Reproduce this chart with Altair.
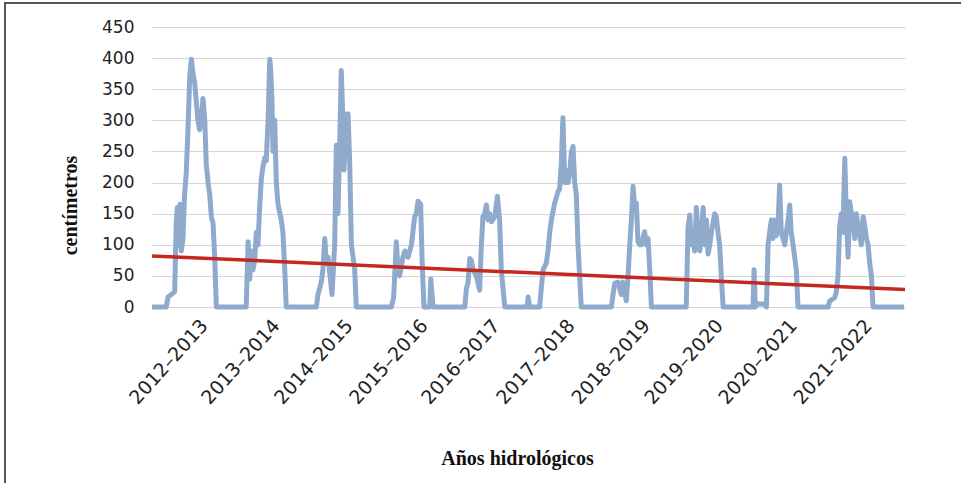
import altair as alt
import pandas as pd

START = "2012-10-01"

# Snow depth (cm): days since 2012-10-01 and depth per season
s1_days = [0, 69, 78, 94, 110, 118, 123, 129, 136, 142, 150, 158, 166, 175, 183, 191, 199, 207, 215, 223, 231, 239, 247, 256, 263, 272, 280, 288, 296, 304, 312]
s1_cm   = [0, 0, 16, 20, 25, 140, 160, 100, 165, 90, 110, 180, 215, 290, 370, 398, 375, 360, 330, 300, 285, 300, 335, 300, 230, 200, 180, 145, 135, 80, 0]

s2_days = [457, 466, 474, 482, 490, 498, 506, 514, 522, 530, 538, 547, 554, 563, 571, 576, 582, 587, 595, 603, 611, 627, 635, 644, 651]
s2_cm   = [0, 105, 45, 90, 60, 75, 120, 100, 160, 205, 225, 240, 235, 300, 398, 380, 330, 250, 300, 200, 165, 140, 120, 60, 0]

s3_days = [797, 805, 813, 821, 829, 838, 845, 854, 862, 873, 886, 894, 902, 910, 918, 926, 931, 942, 951, 959, 967, 975, 983, 991]
s3_cm   = [0, 20, 30, 40, 60, 110, 70, 80, 55, 20, 100, 260, 150, 260, 380, 300, 220, 310, 310, 230, 100, 80, 60, 0]

s4_days = [1161, 1172, 1185, 1193, 1201, 1209, 1217, 1226, 1242, 1258, 1274, 1282, 1290, 1303, 1310, 1319, 1347, 1352, 1363]
s4_cm   = [0, 15, 105, 60, 50, 65, 80, 90, 80, 100, 145, 150, 170, 165, 75, 0, 0, 45, 0]

s5_days = [1517, 1525, 1533, 1541, 1549, 1557, 1573, 1589, 1597, 1605, 1614, 1622, 1630, 1638, 1646, 1662, 1675, 1686, 1694, 1711, 1819, 1824, 1832]
s5_cm   = [0, 30, 40, 78, 75, 60, 50, 27, 97, 145, 150, 164, 140, 150, 137, 145, 178, 140, 60, 0, 0, 16, 0]

s6_days = [1880, 1888, 1897, 1912, 1921, 1929, 1937, 1953, 1969, 1977, 1985, 1993, 2002, 2009, 2018, 2026, 2034, 2042, 2050, 2058, 2066, 2074, 2082]
s6_cm   = [0, 30, 60, 70, 91, 120, 140, 167, 185, 190, 230, 304, 200, 220, 200, 215, 250, 258, 200, 180, 100, 50, 0]

s7_days = [2228, 2236, 2244, 2260, 2276, 2284, 2300, 2309, 2317, 2325, 2333, 2341, 2349, 2357, 2365, 2373, 2389, 2397, 2406, 2414, 2422]
s7_cm   = [0, 20, 38, 40, 20, 40, 10, 50, 100, 140, 194, 160, 167, 105, 100, 100, 121, 100, 110, 60, 0]

s8_days = [2591, 2600, 2608, 2616, 2624, 2632, 2640, 2648, 2657, 2664, 2673, 2681, 2689, 2697, 2705, 2713, 2729, 2737, 2745, 2753, 2761, 2770]
s8_cm   = [0, 129, 148, 100, 110, 90, 160, 110, 90, 120, 160, 100, 140, 85, 100, 120, 150, 145, 120, 100, 50, 0]

s9_days = [2907, 2915, 2920, 2926, 2931, 2972, 2980, 2988, 2996, 3004, 3012, 3020, 3028, 3036, 3044, 3052, 3060, 3069, 3076, 3085, 3093, 3100, 3109, 3117, 3125, 3133]
s9_cm   = [0, 0, 60, 0, 5, 5, 0, 100, 121, 140, 110, 140, 115, 130, 196, 120, 110, 100, 120, 140, 164, 120, 100, 80, 60, 0]

s10_days = [3279, 3287, 3311, 3319, 3327, 3335, 3343, 3351, 3360, 3367, 3376, 3384, 3392, 3400, 3408, 3416, 3424, 3440, 3449, 3457, 3465, 3473, 3481, 3489, 3497, 3647]
s10_cm   = [0, 10, 15, 24, 50, 129, 150, 120, 239, 150, 80, 169, 150, 140, 110, 150, 130, 100, 145, 130, 110, 100, 70, 50, 0, 0]

# Linear trend (cm) at start and end of the record
trend_days = [0, 3652]
trend_cm = [82, 28]

# Tick label positions (days since start) and the hydrological-year labels
tick_days = [252, 601, 955, 1319, 1668, 2032, 2396, 2750, 3109, 3473]
season_labels = ["2012–2013", "2013–2014", "2014–2015", "2015–2016", "2016–2017",
                 "2017–2018", "2018–2019", "2019–2020", "2020–2021", "2021–2022"]
y_ticks = [0, 50, 100, 150, 200, 250, 300, 350, 400, 450]

all_days = (s1_days + s2_days + s3_days + s4_days + s5_days + s6_days +
            s7_days + s8_days + s9_days + s10_days)
all_cm = (s1_cm + s2_cm + s3_cm + s4_cm + s5_cm + s6_cm +
          s7_cm + s8_cm + s9_cm + s10_cm)

t0 = pd.Timestamp(START)
df = pd.DataFrame({"fecha": [t0 + pd.Timedelta(days=d) for d in all_days], "cm": all_cm})
trend_df = pd.DataFrame({"fecha": [t0 + pd.Timedelta(days=d) for d in trend_days], "cm": trend_cm})

tick_dates = [t0 + pd.Timedelta(days=d) for d in tick_days]
tick_values = [alt.DateTime(year=t.year, month=t.month, date=t.day) for t in tick_dates]
label_map = {str(t.year): lab for t, lab in zip(tick_dates, season_labels)}
label_expr = "{" + ",".join(f"'{k}':'{v}'" for k, v in label_map.items()) + "}[toString(year(datum.value))]"

end = t0 + pd.Timedelta(days=3652)
x_scale = alt.Scale(domain=[alt.DateTime(year=t0.year, month=t0.month, date=t0.day),
                            alt.DateTime(year=end.year, month=end.month, date=end.day)])
y_scale = alt.Scale(domain=[0, 450], nice=False)

x_axis = alt.Axis(
    values=tick_values, labelExpr=label_expr, labelAngle=-48, labelAlign="right",
    labelBaseline="middle", ticks=False, tickSize=0, grid=False, domainColor="#d4d4d4",
    labelFont="DejaVu Sans", labelFontSize=19, labelColor="#222222", labelPadding=15,
    labelOverlap=False, labelBound=False, labelFlush=False,
    title="Años hidrológicos", titleFont="Liberation Serif", titleFontSize=20,
    titleFontWeight="bold", titleColor="#111111", titleX=365, titleY=151,
    titleAlign="center", titleBaseline="middle",
)
y_axis = alt.Axis(
    values=y_ticks, tickCount=10, ticks=False, tickSize=0, domain=False, labelOverlap=False,
    gridColor="#d6d6d6", gridWidth=1,
    labelFont="DejaVu Sans", labelFontSize=17, labelColor="#222222", labelPadding=18,
    title="centímetros", titleFont="Liberation Serif", titleFontSize=20,
    titleFontWeight="bold", titleColor="#111111", titleAngle=270,
    titleX=-82, titleY=178, titleAlign="center", titleBaseline="middle",
)

snow = alt.Chart(df).mark_line(color="#8FAACD", strokeWidth=5, strokeJoin="round").encode(
    x=alt.X("fecha:T", scale=x_scale, axis=x_axis),
    y=alt.Y("cm:Q", scale=y_scale, axis=y_axis),
)

trend = alt.Chart(trend_df).mark_line(color="#C42820", strokeWidth=3.5).encode(
    x=alt.X("fecha:T", scale=x_scale, axis=x_axis),
    y=alt.Y("cm:Q", scale=y_scale, axis=y_axis),
)

frame_df = pd.DataFrame({"k": [0]})
frame = alt.Chart(frame_df).mark_rect(fill=None, fillOpacity=0, stroke="#555555", strokeWidth=2).encode(
    x=alt.value(-147), x2=alt.value(840), y=alt.value(-24), y2=alt.value(520))

chart = alt.layer(snow, trend, frame).properties(
    width=753, height=280,
    autosize=alt.AutoSizeParams(type="none"),
    padding={"left": 152, "top": 27, "right": 56, "bottom": 176},
    background="white",
).configure_view(stroke=None)

chart.save("out.html", embed_options={"renderer": "svg", "actions": False})
